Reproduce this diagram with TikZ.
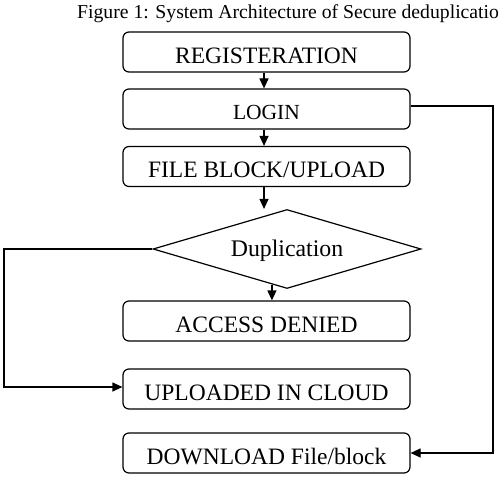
\documentclass[tikz,border=0pt]{standalone}
\usepackage{fontspec}
\setmainfont{Liberation Serif}
\usetikzlibrary{shapes.geometric,arrows.meta,calc}
\begin{document}
\begin{tikzpicture}[x=1pt,y=-1pt,
  box/.style={draw,line width=1.2pt,rounded corners=6pt,minimum width=287pt,minimum height=40pt,inner sep=0pt,font=\fontsize{23.5}{28}\selectfont,text height=22.6pt,text depth=0pt},
  decision/.style={draw,line width=1.2pt,diamond,aspect=3.4,minimum width=268pt,minimum height=79pt,inner sep=0pt,font=\fontsize{23.8}{28}\selectfont,text height=15.6pt,text depth=0pt},
  arr/.style={line width=1.2pt,-{Triangle[length=10pt,width=9pt]}},
  captionstyle/.style={anchor=base west,inner sep=0pt,font=\fontsize{19.7}{24}\selectfont}]
\useasboundingbox (0,0) rectangle (503,478);
\node[captionstyle] (cap) at (77,18.5) {Figure 1: System Architecture of Secure deduplicatio};
\node[box] (reg) at (266.5,52) {REGISTERATION};
\node[box,font=\fontsize{21.5}{26}\selectfont,text height=21.2pt] (login) at (266.5,109) {LOGIN};
\node[box] (file) at (266.5,166.5) {FILE BLOCK/UPLOAD};
\node[decision] (dia) at (287,249) {Duplication};
\node[box] (acc) at (266.5,321) {ACCESS DENIED};
\node[box] (up) at (266.5,389) {UPLOADED IN CLOUD};
\node[box] (dl) at (266.5,453) {DOWNLOAD File/block};
\coordinate (lx) at (4,0);
\coordinate (rx) at (493,0);
\coordinate (dsrc) at ($(dia.west)!0.888!(dia.south)$);
\draw[arr] ([xshift=-2.5pt]reg.south) -- ([xshift=-2.5pt]login.north);
\draw[arr] ([xshift=-2.5pt]login.south) -- ([xshift=-2.5pt]file.north);
\draw[arr] ([xshift=-2.5pt]file.south) -- ([xshift=-2.5pt]file.south |- dia.north);
\draw[arr] (dsrc) -- (dsrc |- acc.north);
\draw[arr] (dia.west) -- (dia.west -| lx) |- ([yshift=2pt]up.west);
\draw[arr] ([yshift=3pt]login.east) -- ([yshift=3pt]login.east -| rx) |- (dl.east);
\end{tikzpicture}
\end{document}
